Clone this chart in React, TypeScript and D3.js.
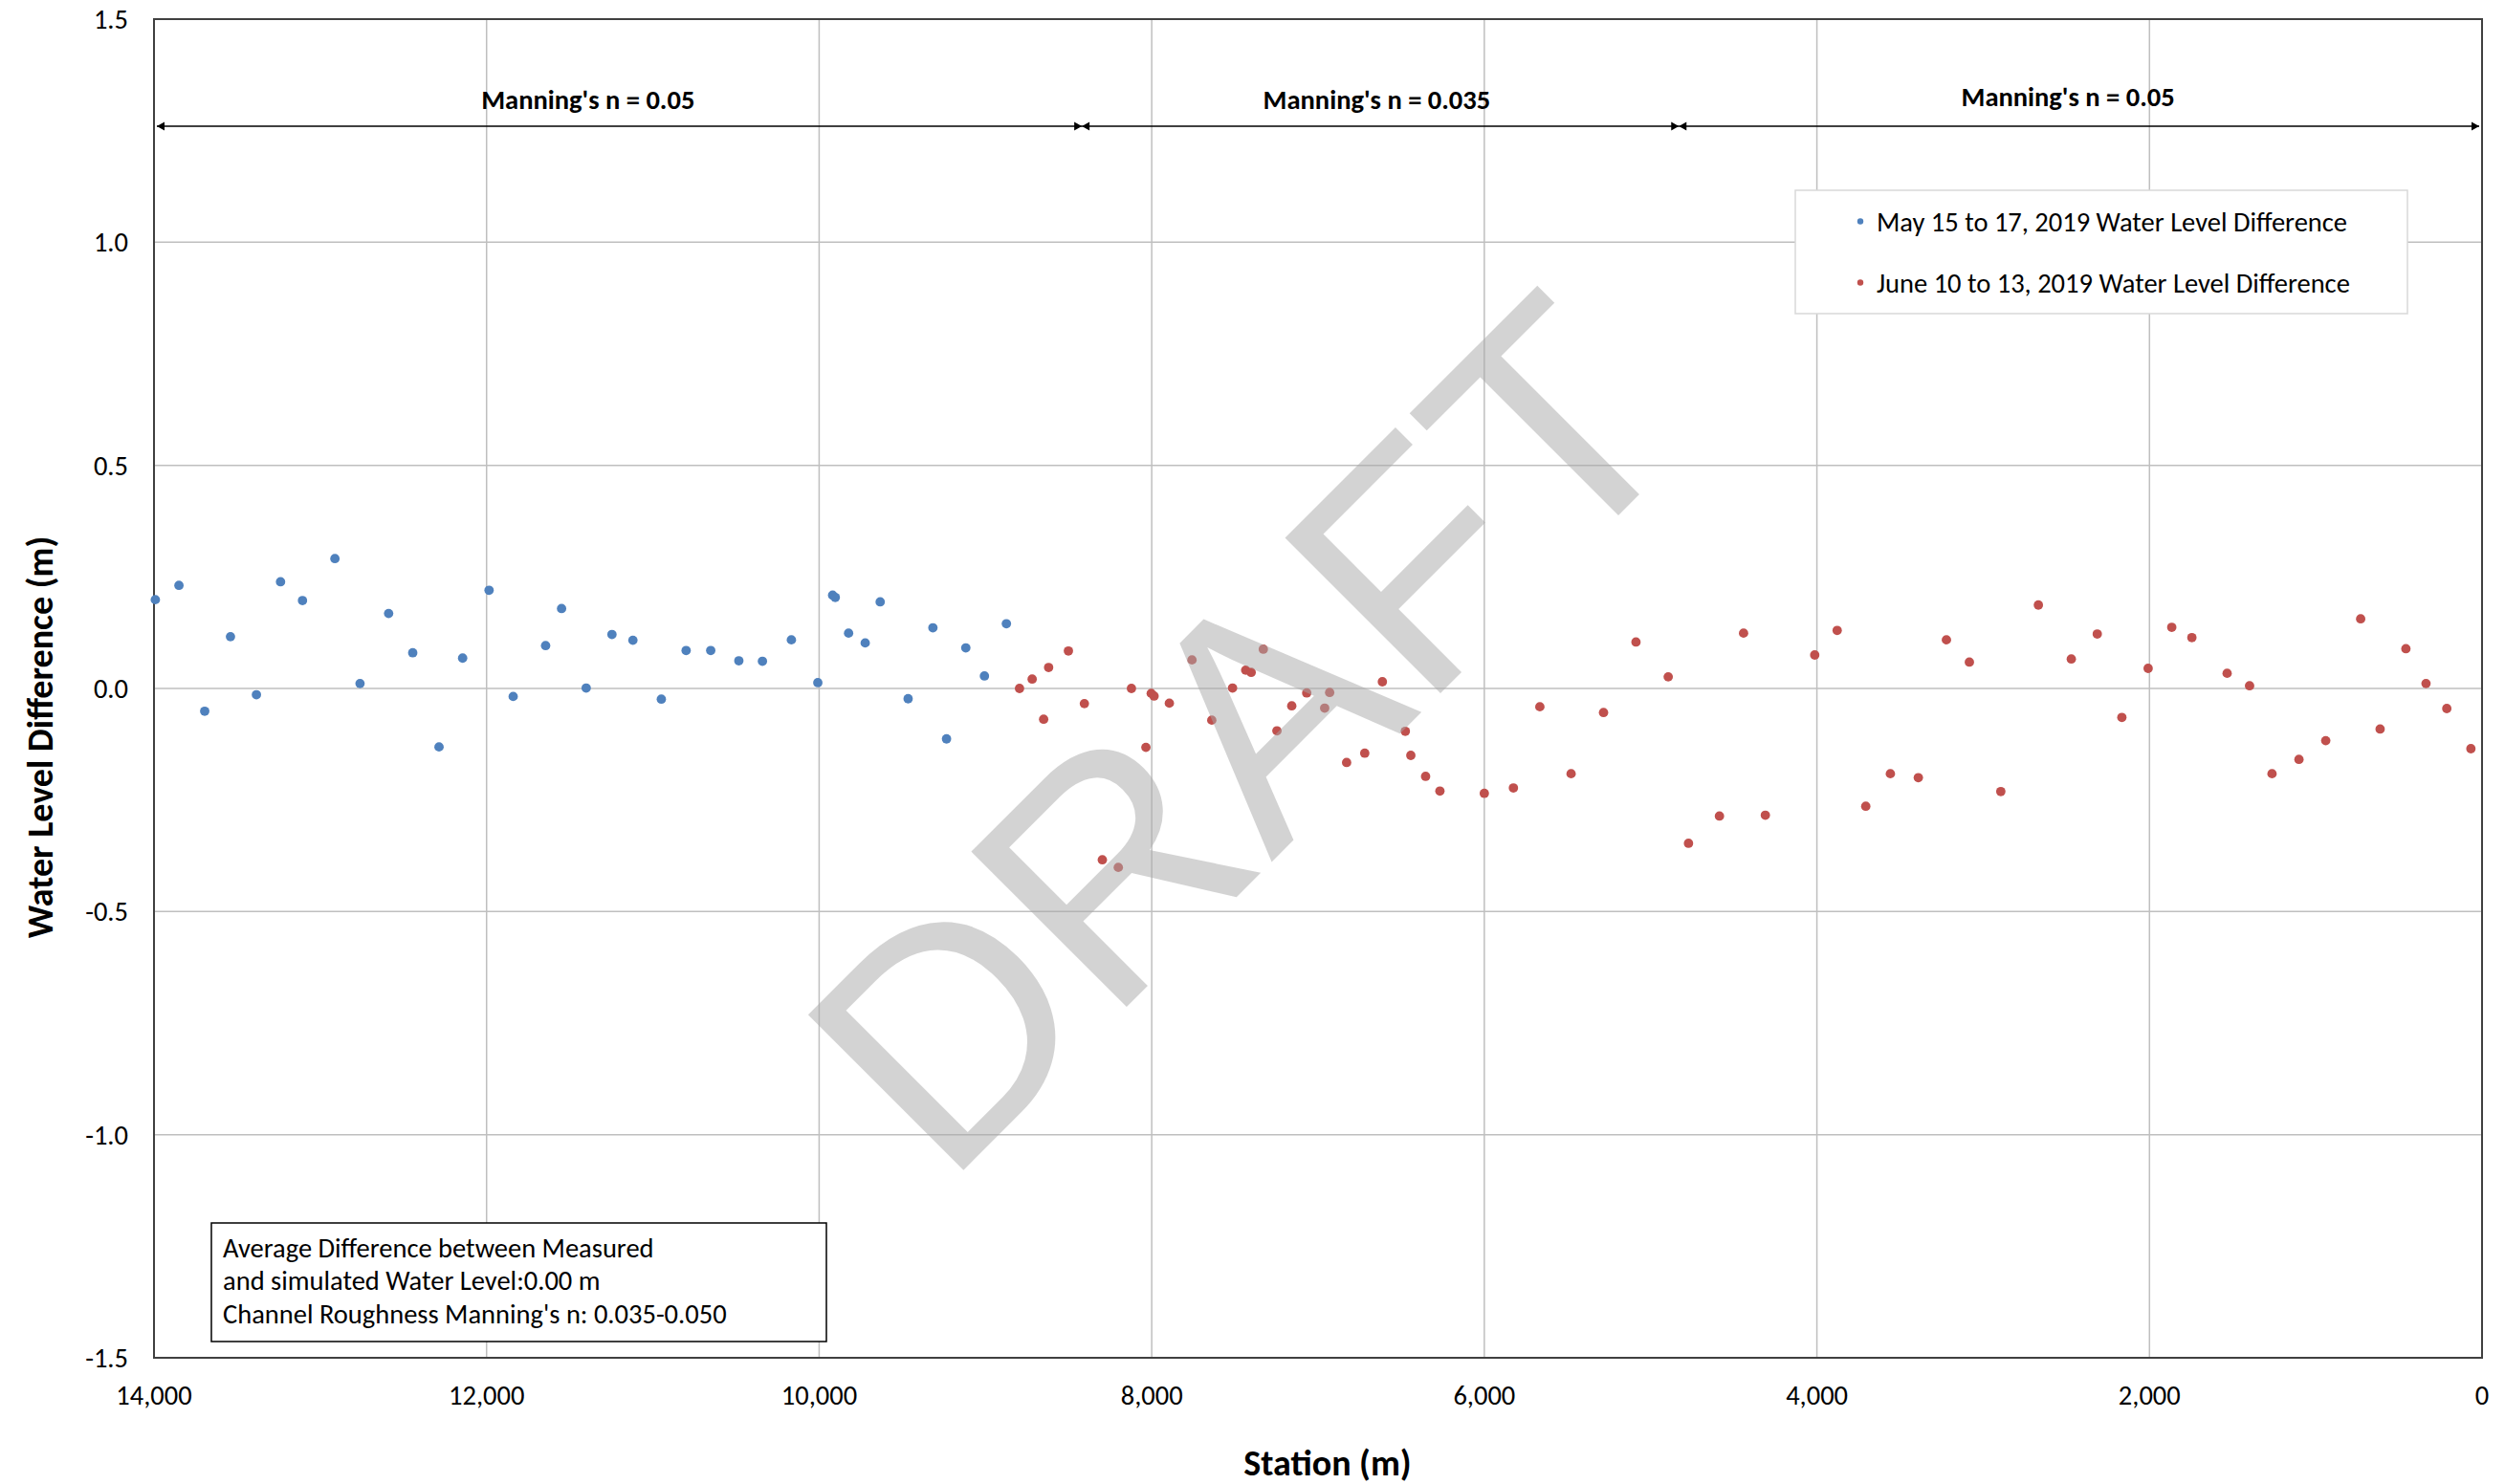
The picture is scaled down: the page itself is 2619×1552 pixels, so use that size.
import React from "react";
import * as d3 from "d3";

// ---------- data ----------
const mayStations = [13992, 13850, 13695, 13540, 13384, 13239, 13107, 12912, 12761, 12589, 12444, 12286, 12144, 11985, 11840, 11645, 11549, 11401, 11246, 11120, 10949, 10800, 10652, 10483, 10341, 10167, 10008, 9919, 9903, 9823, 9723, 9633, 9465, 9316, 9234, 9118, 9006, 8874];
const mayValues = [0.199, 0.231, -0.051, 0.116, -0.014, 0.239, 0.197, 0.291, 0.011, 0.168, 0.08, -0.131, 0.068, 0.22, -0.018, 0.096, 0.179, 0.001, 0.121, 0.108, -0.024, 0.085, 0.085, 0.062, 0.061, 0.109, 0.013, 0.209, 0.204, 0.124, 0.102, 0.194, -0.023, 0.136, -0.113, 0.091, 0.028, 0.145];

const juneStations = [8795, 8719, 8650, 8620, 8501, 8405, 8297, 8201, 8122, 8035, 8003, 7986, 7894, 7758, 7639, 7514, 7435, 7402, 7329, 7247, 7158, 7068, 6960, 6930, 6828, 6719, 6613, 6475, 6442, 6353, 6267, 6000, 5825, 5666, 5478, 5283, 5088, 4894, 4772, 4586, 4441, 4310, 4013, 3878, 3706, 3558, 3390, 3221, 3083, 2894, 2668, 2470, 2314, 2166, 2008, 1866, 1745, 1533, 1398, 1263, 1101, 940, 730, 613, 458, 337, 212, 67];
const juneValues = [0.0, 0.021, -0.069, 0.047, 0.084, -0.034, -0.384, -0.401, 0.0, -0.132, -0.011, -0.017, -0.033, 0.064, -0.071, 0.001, 0.041, 0.036, 0.088, -0.095, -0.039, -0.01, -0.044, -0.009, -0.166, -0.145, 0.015, -0.096, -0.15, -0.197, -0.23, -0.235, -0.223, -0.041, -0.191, -0.054, 0.104, 0.026, -0.347, -0.286, 0.124, -0.284, 0.075, 0.13, -0.264, -0.191, -0.2, 0.109, 0.059, -0.231, 0.187, 0.066, 0.122, -0.065, 0.045, 0.137, 0.114, 0.034, 0.006, -0.191, -0.159, -0.117, 0.156, -0.091, 0.089, 0.011, -0.045, -0.135];

const xTicks = [14000, 12000, 10000, 8000, 6000, 4000, 2000, 0];
const yTicks = [1.5, 1.0, 0.5, 0.0, -0.5, -1.0, -1.5];

const zoneBounds = [14000, 8420, 4830, 0];
const zoneLabels = ["Manning's n = 0.05", "Manning's n = 0.035", "Manning's n = 0.05"];
const zoneLabelStations = [11390, 6647, 2490];

const seriesNames = ["May 15 to 17, 2019 Water Level Difference", "June 10 to 13, 2019 Water Level Difference"];
const noteLines = ["Average Difference between Measured", "and simulated Water Level:0.00 m", "Channel Roughness Manning's n: 0.035-0.050"];

// ---------- layout ----------
const W = 2619, H = 1552;
const L = 161, R = 2595, T = 20, B = 1420;
const BLUE = "#4f81bd";
const RED = "#c0504d";
const FONT = "Carlito, Calibri, Lato, sans-serif";
const FS = 28.5;

export default function App() {
  const x = d3.scaleLinear().domain([14000, 0]).range([L, R]);
  const y = d3.scaleLinear().domain([-1.5, 1.5]).range([B, T]);
  const fmt = d3.format(",");
  const yFmt = (v: number) => d3.format(".1f")(v).replace("\u2212", "-");
  const arrowY = 132;
  const labelY = [113.5, 113.5, 110.5];

  const may = mayStations.map((s, i) => ({ s, v: mayValues[i] }));
  const june = juneStations.map((s, i) => ({ s, v: juneValues[i] }));

  const head = (tipX: number, dir: number) => {
    const len = 8, hw = 4.5;
    return `M${tipX},${arrowY} L${tipX - dir * len},${arrowY - hw} L${tipX - dir * len},${arrowY + hw} Z`;
  };

  return (
    <svg width={W} height={H} style={{ position: "absolute", left: 0, top: 0, display: "block", background: "#fff" }} fontFamily={FONT}>
      <rect x={0} y={0} width={W} height={H} fill="#fff" />
      {/* grid */}
      {xTicks.map((t) => (
        <line key={"gx" + t} x1={x(t)} x2={x(t)} y1={T} y2={B} stroke="#bfbfbf" strokeWidth={1.5} />
      ))}
      {yTicks.map((t) => (
        <line key={"gy" + t} x1={L} x2={R} y1={y(t)} y2={y(t)} stroke="#bfbfbf" strokeWidth={1.5} />
      ))}
      {/* plot border */}
      <rect x={L} y={T} width={R - L} height={B - T} fill="none" stroke="#404040" strokeWidth={2} />

      {/* tick labels */}
      {yTicks.map((t) => (
        <text key={"ty" + t} x={134} y={y(t) + 10} textAnchor="end" fontSize={FS} fill="#000">
          {yFmt(t)}
        </text>
      ))}
      {xTicks.map((t) => (
        <text key={"tx" + t} x={x(t)} y={1468.5} textAnchor="middle" fontSize={FS} fill="#000">
          {fmt(t)}
        </text>
      ))}

      {/* axis titles */}
      <text x={1388} y={1543} textAnchor="middle" fontSize={38} fontWeight="bold" fill="#000">Station (m)</text>
      <text transform="translate(55,771) rotate(-90)" textAnchor="middle" fontSize={38} fontWeight="bold" fill="#000">
        Water Level Difference (m)
      </text>

      {/* zone arrows */}
      {zoneLabels.map((lab, i) => {
        const x1 = x(zoneBounds[i]) + (i === 0 ? 3 : 0);
        const x2 = x(zoneBounds[i + 1]) - (i === 2 ? 3 : 0);
        return (
          <g key={"z" + i}>
            <line x1={x1} x2={x2} y1={arrowY} y2={arrowY} stroke="#000" strokeWidth={1.6} />
            <path d={head(x1, -1)} fill="#000" />
            <path d={head(x2, 1)} fill="#000" />
            <text x={x(zoneLabelStations[i])} y={labelY[i]} textAnchor="middle" fontSize={FS} fontWeight="bold" fill="#000">
              {lab}
            </text>
          </g>
        );
      })}

      {/* points */}
      {may.map((d, i) => (
        <circle key={"m" + i} cx={x(d.s)} cy={y(d.v)} r={4.9} fill={BLUE} />
      ))}
      {june.map((d, i) => (
        <circle key={"j" + i} cx={x(d.s)} cy={y(d.v)} r={4.9} fill={RED} />
      ))}

      {/* legend */}
      <rect x={1877} y={199} width={640} height={129} fill="#fff" stroke="#d9d9d9" strokeWidth={1.5} />
      {seriesNames.map((n, i) => (
        <g key={"lg" + i}>
          <circle cx={1945} cy={231.5 + i * 64} r={3.2} fill={i === 0 ? BLUE : RED} />
          <text x={1962} y={241.5 + i * 64} fontSize={FS} fill="#000">{n}</text>
        </g>
      ))}

      {/* note box */}
      <rect x={221} y={1279} width={643} height={124} fill="#fff" stroke="#000" strokeWidth={1.5} />
      {noteLines.map((t, i) => (
        <text key={"n" + i} x={233} y={1314.5 + i * 34.5} fontSize={FS} fill="#000">{t}</text>
      ))}

      {/* watermark */}
      <text
        transform="translate(988,1243) rotate(-45)"
        fontFamily="'Liberation Sans', Arial, sans-serif"
        fontSize={334}
        fill="#a9a9a9"
        opacity={0.5}
      >
        DRAFT
      </text>
    </svg>
  );
}
